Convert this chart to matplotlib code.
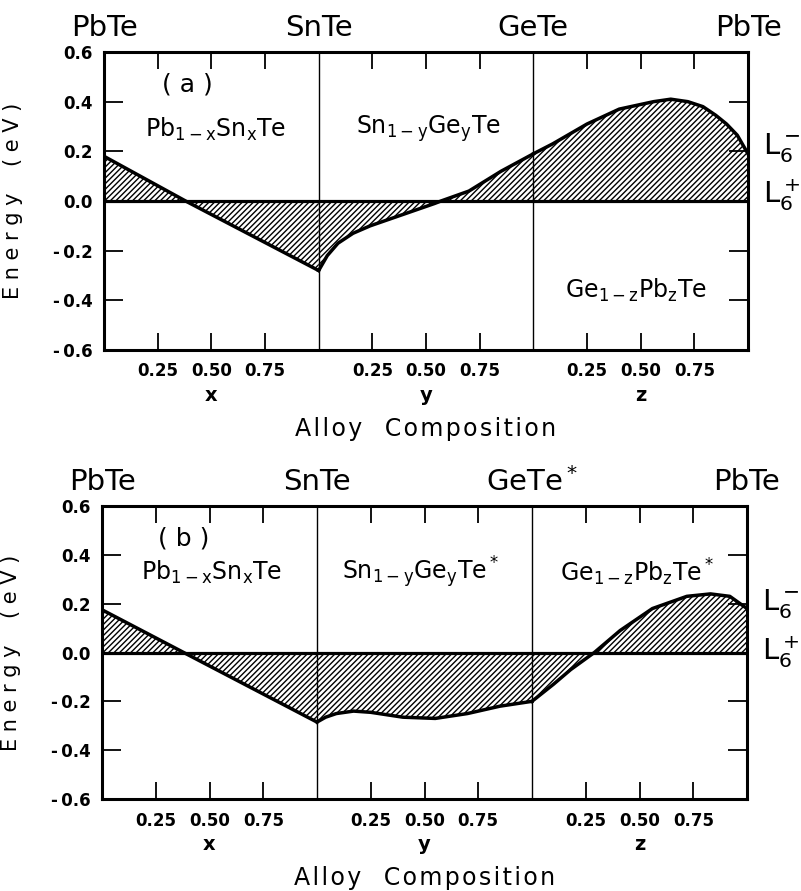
import matplotlib
matplotlib.use("Agg")
import matplotlib.pyplot as plt

plt.rcParams["font.family"] = "DejaVu Sans"
plt.rcParams["mathtext.default"] = "regular"
plt.rcParams["hatch.linewidth"] = 1.0

# end compounds along the top of each panel
headers_a = ["PbTe", "SnTe", "GeTe", "PbTe"]
headers_b = ["PbTe", "SnTe", "GeTe$^*$", "PbTe"]
alloys_a = [r"Pb$_{1-x}$Sn$_x$Te", r"Sn$_{1-y}$Ge$_y$Te", r"Ge$_{1-z}$Pb$_z$Te"]
alloys_b = [r"Pb$_{1-x}$Sn$_x$Te", r"Sn$_{1-y}$Ge$_y$Te$^*$", r"Ge$_{1-z}$Pb$_z$Te$^*$"]
comp_names = ["x", "y", "z"]
tick_comp = [0.25, 0.50, 0.75]
tick_text = ["0.25", "0.50", "0.75"]
energy_ticks = [-0.6, -0.4, -0.2, 0.0, 0.2, 0.4, 0.6]

# (a) L6- energy relative to L6+
x_a = [0.0, 0.38, 1.0]
e_x_a = [0.18, 0.0, -0.28]
y_a = [0.0, 0.04, 0.09, 0.16, 0.24, 0.39, 0.54, 0.57, 0.70, 0.85, 1.0]
e_y_a = [-0.28, -0.22, -0.17, -0.13, -0.10, -0.055, -0.01, 0.0, 0.04, 0.12, 0.19]
z_a = [0.0, 0.09, 0.25, 0.40, 0.56, 0.64, 0.72, 0.79, 0.85, 0.90, 0.95, 1.0]
e_z_a = [0.19, 0.23, 0.31, 0.37, 0.40, 0.41, 0.40, 0.38, 0.345, 0.31, 0.265, 0.19]

# (b)
x_b = [0.0, 0.38, 1.0]
e_x_b = [0.175, 0.0, -0.285]
y_b = [0.0, 0.04, 0.09, 0.17, 0.25, 0.40, 0.55, 0.70, 0.85, 1.0]
e_y_b = [-0.285, -0.265, -0.25, -0.24, -0.245, -0.265, -0.27, -0.25, -0.22, -0.20]
z_b = [0.0, 0.10, 0.18, 0.29, 0.41, 0.56, 0.72, 0.83, 0.92, 1.0]
e_z_b = [-0.20, -0.13, -0.07, 0.0, 0.09, 0.18, 0.23, 0.24, 0.23, 0.18]

fig = plt.figure(figsize=(8.01, 8.91), dpi=100)
ax_a = fig.add_axes([104 / 801, 1 - 350 / 891, 644 / 801, 298 / 891])
ax_b = fig.add_axes([102 / 801, 1 - 799 / 891, 645 / 801, 293 / 891])

panels = [
    (ax_a, "( a )", headers_a, alloys_a, [(x_a, e_x_a), (y_a, e_y_a), (z_a, e_z_a)],
     (0.39, 0.47), [(0.52, 0.29), (1.51, 0.29), (2.48, -0.36)], (0.19, -0.01)),
    (ax_b, "( b )", headers_b, alloys_b, [(x_b, e_x_b), (y_b, e_y_b), (z_b, e_z_b)],
     (0.38, 0.465), [(0.51, 0.33), (1.48, 0.33), (2.49, 0.33)], (0.175, -0.03)),
]

hs = "\u200a"
alloy_title = hs.join("Alloy") + "   " + hs.join("Composition")

for ax, tag, headers, alloys, segs, tag_pos, alloy_pos, l6_pos in panels:
    for i, (comp, energy) in enumerate(segs):
        xs = [i + c for c in comp]
        ax.fill_between(xs, energy, 0, facecolor="none", edgecolor="black",
                        hatch="//////", linewidth=0, interpolate=True)
        ax.plot(xs, energy, color="black", lw=2.5, solid_joinstyle="round")
    ax.axhline(0, color="black", lw=2.3)
    for sep in [1, 2]:
        ax.axvline(sep, color="black", lw=1.0)

    ax.set_xlim(0, 3)
    ax.set_ylim(-0.6, 0.6)
    ticks = [i + t for i in range(3) for t in tick_comp]
    ax.set_xticks(ticks)
    ax.set_xticklabels(tick_text * 3, fontsize=12, fontweight="bold")
    ax.set_yticks(energy_ticks)
    ax.set_yticklabels(["%.1f" % v if v >= 0 else "-\u2009%.1f" % abs(v) for v in energy_ticks],
                       fontsize=12, fontweight="bold")
    ax.tick_params(axis="x", direction="in", length=12, width=1.3, top=True, pad=9)
    ax.tick_params(axis="y", direction="in", length=14, width=1.3, right=True, pad=8)
    for sp in ax.spines.values():
        sp.set_linewidth(2.2)

    for i, h in enumerate(headers):
        ax.annotate(h, xy=(i, 1.0), xycoords=("data", "axes fraction"),
                    xytext=(0, 17), textcoords="offset points",
                    ha="center", va="center", fontsize=21)
    for i, name in enumerate(comp_names):
        ax.annotate(name, xy=(i + 0.5, 0.0), xycoords=("data", "axes fraction"),
                    xytext=(0, -33), textcoords="offset points",
                    ha="center", va="center", fontsize=14, fontweight="bold")
    ax.annotate(alloy_title, xy=(0.5, 0.0), xycoords="axes fraction",
                xytext=(0, -57), textcoords="offset points",
                ha="center", va="center", fontsize=17)
    ax.set_ylabel("E n e r g y    ( e V )", fontsize=15)
    ax.yaxis.set_label_coords(-0.126, 0.5)

    ax.text(tag_pos[0], tag_pos[1], tag, ha="center", va="center", fontsize=18)
    for (px, py), s in zip(alloy_pos, alloys):
        ax.text(px, py, s, ha="center", va="center", fontsize=17)
    ax.annotate(r"L$_6^-$", xy=(1.0, l6_pos[0]), xycoords=("axes fraction", "data"),
                xytext=(11, 0), textcoords="offset points",
                ha="left", va="baseline", fontsize=21)
    ax.annotate(r"L$_6^+$", xy=(1.0, l6_pos[1]), xycoords=("axes fraction", "data"),
                xytext=(11, 0), textcoords="offset points",
                ha="left", va="baseline", fontsize=21)

fig.savefig("out.png", dpi=100)
